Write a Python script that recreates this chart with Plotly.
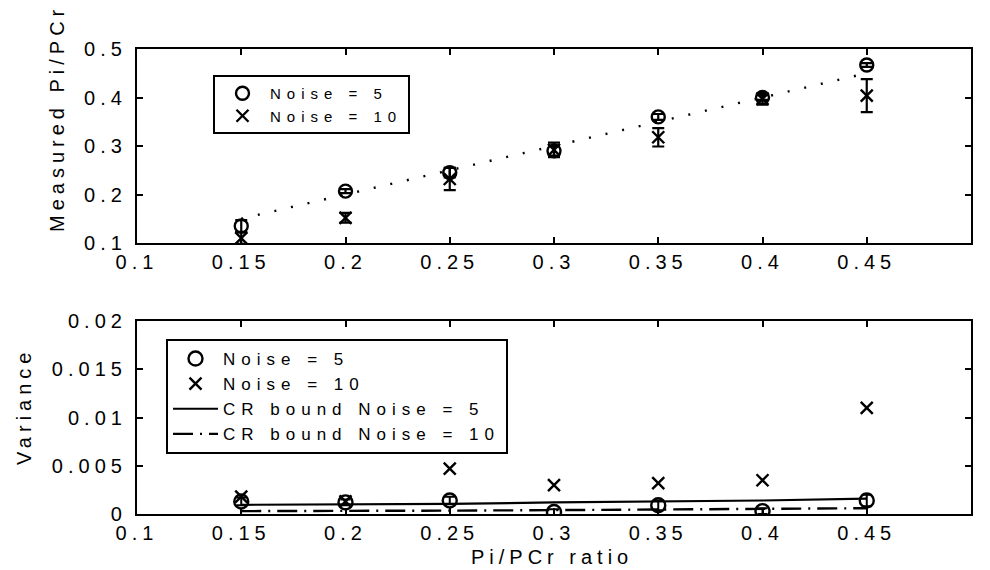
import plotly.graph_objects as go

# Pi/PCr ratios that were simulated
ratio = [0.15, 0.20, 0.25, 0.30, 0.35, 0.40, 0.45]
# ideal estimate (measured equals true ratio)
ideal = [0.15, 0.20, 0.25, 0.30, 0.35, 0.40, 0.45]

# mean measured ratio and spread
meas_n5 = [0.135, 0.207, 0.245, 0.290, 0.360, 0.400, 0.467]
meas_n5_err = [0.012, 0.004, 0.010, 0.010, 0.006, 0.005, 0.004]
meas_n10 = [0.110, 0.152, 0.232, 0.292, 0.318, 0.397, 0.404]
meas_n10_err = [0.012, 0.010, 0.023, 0.015, 0.019, 0.012, 0.034]

# variance of the estimates and Cramer-Rao bounds
var_n5 = [0.0013, 0.0012, 0.0014, 0.0002, 0.0009, 0.0003, 0.0014]
var_n5_err = [0.0004, 0.0003, 0.0004, 0.0003, 0.0005, 0.0003, 0.0006]
var_n10 = [0.0018, 0.0013, 0.0047, 0.0030, 0.0032, 0.0035, 0.0110]
cr_n5 = [0.00095, 0.0010, 0.00105, 0.0012, 0.0013, 0.0014, 0.0016]
cr_n10 = [0.0003, 0.0003, 0.00035, 0.0004, 0.00045, 0.0005, 0.0006]

x_ticks = [0.1, 0.15, 0.2, 0.25, 0.3, 0.35, 0.4, 0.45, 0.5]
x_labels = ["0.1", "0.15", "0.2", "0.25", "0.3", "0.35", "0.4", "0.45", "0.5"]
y1_ticks = [0.1, 0.2, 0.3, 0.4, 0.5]
y1_labels = ["0.1", "0.2", "0.3", "0.4", "0.5"]
y2_ticks = [0, 0.005, 0.01, 0.015, 0.02]
y2_labels = ["0", "0.005", "0.01", "0.015", "0.02"]

FONT = "Liberation Sans, Arial, Helvetica, sans-serif"
W, H = 990, 570


def spaced(s, ls=5):
    return f'<span style="letter-spacing:{ls}px">{s}</span>'


fig = go.Figure()

# ---- top panel: measured ratio ----
fig.add_trace(go.Scatter(
    x=ratio, y=ideal, mode="lines", showlegend=False,
    line=dict(color="black", width=2.4, dash="2px,15px"),
    xaxis="x", yaxis="y"))
fig.add_trace(go.Scatter(
    x=ratio, y=meas_n5, mode="markers", name=spaced("Noise = 5", 6),
    marker=dict(symbol="circle-open", size=13, color="black", line=dict(width=2.4)),
    error_y=dict(type="data", array=meas_n5_err, color="black", thickness=2.2, width=6),
    xaxis="x", yaxis="y", legend="legend"))
fig.add_trace(go.Scatter(
    x=ratio, y=meas_n10, mode="markers", name=spaced("Noise = 10", 6),
    marker=dict(symbol="x-thin-open", size=12, color="black", line=dict(width=2.4, color="black")),
    error_y=dict(type="data", array=meas_n10_err, color="black", thickness=2.2, width=6),
    xaxis="x", yaxis="y", legend="legend"))

# ---- bottom panel: variance ----
fig.add_trace(go.Scatter(
    x=ratio, y=var_n5, mode="markers", name=spaced("Noise = 5", 6),
    marker=dict(symbol="circle-open", size=14, color="black", line=dict(width=2.4)),
    error_y=dict(type="data", array=var_n5_err, color="black", thickness=2, width=5),
    xaxis="x2", yaxis="y2", legend="legend2"))
fig.add_trace(go.Scatter(
    x=ratio, y=var_n10, mode="markers", name=spaced("Noise = 10", 6),
    marker=dict(symbol="x-thin-open", size=12, color="black", line=dict(width=2.4, color="black")),
    xaxis="x2", yaxis="y2", legend="legend2"))
fig.add_trace(go.Scatter(
    x=ratio, y=cr_n5, mode="lines", name=spaced("CR bound Noise = 5", 6),
    line=dict(color="black", width=2.2),
    xaxis="x2", yaxis="y2", legend="legend2"))
fig.add_trace(go.Scatter(
    x=ratio, y=cr_n10, mode="lines", name=spaced("CR bound Noise = 10", 6),
    line=dict(color="black", width=2.4, dash="20px,7px,2px,7px"),
    xaxis="x2", yaxis="y2", legend="legend2"))

x_dom = [137 / W, 971 / W]
top_dom = [1 - 243 / H, 1 - 49 / H]
bot_dom = [1 - 514 / H, 1 - 321 / H]

axis_common = dict(
    showline=True, linecolor="black", linewidth=2.2, mirror="ticks",
    ticks="inside", ticklen=6, tickwidth=1.5, tickcolor="black",
    showgrid=False, zeroline=False, automargin=False,
    tickfont=dict(family=FONT, size=20, color="black"),
)

fig.update_layout(
    width=W, height=H,
    margin=dict(l=0, r=0, t=0, b=0),
    paper_bgcolor="white", plot_bgcolor="white",
    font=dict(family=FONT, size=20, color="black"),
    xaxis=dict(domain=x_dom, range=[0.1, 0.5], anchor="y",
               tickvals=x_ticks, ticktext=[spaced(t) for t in x_labels], **axis_common),
    yaxis=dict(domain=top_dom, range=[0.1, 0.5], anchor="x",
               tickvals=y1_ticks, ticktext=[spaced(t) for t in y1_labels],
               ticklabelstandoff=4, **axis_common),
    xaxis2=dict(domain=x_dom, range=[0.1, 0.5], anchor="y2",
                tickvals=x_ticks, ticktext=[spaced(t) for t in x_labels], **axis_common),
    yaxis2=dict(domain=bot_dom, range=[0, 0.02], anchor="x2",
                tickvals=y2_ticks, ticktext=[spaced(t) for t in y2_labels],
                ticklabelstandoff=4, **axis_common),
    legend=dict(x=213 / W, y=1 - 75 / H, xanchor="left", yanchor="top",
                bgcolor="white", bordercolor="black", borderwidth=2,
                font=dict(family=FONT, size=15, color="black"),
                itemwidth=45, tracegroupgap=0),
    legend2=dict(x=166 / W, y=1 - 339 / H, xanchor="left", yanchor="top",
                 bgcolor="white", bordercolor="black", borderwidth=2,
                 font=dict(family=FONT, size=17, color="black"),
                 itemwidth=45, tracegroupgap=0),
    annotations=[
        dict(text=spaced("Measured Pi/PCr"), x=57 / W, y=1 - 119 / H,
             xref="paper", yref="paper", textangle=-90, showarrow=False,
             xanchor="center", yanchor="middle", font=dict(size=20)),
        dict(text=spaced("Variance"), x=24 / W, y=1 - 407 / H,
             xref="paper", yref="paper", textangle=-90, showarrow=False,
             xanchor="center", yanchor="middle", font=dict(size=20)),
        dict(text=spaced("Pi/PCr ratio"), x=552 / W, y=1 - 557 / H,
             xref="paper", yref="paper", showarrow=False,
             xanchor="center", yanchor="middle", font=dict(size=20)),
    ],
)

fig.write_html("out.html")
